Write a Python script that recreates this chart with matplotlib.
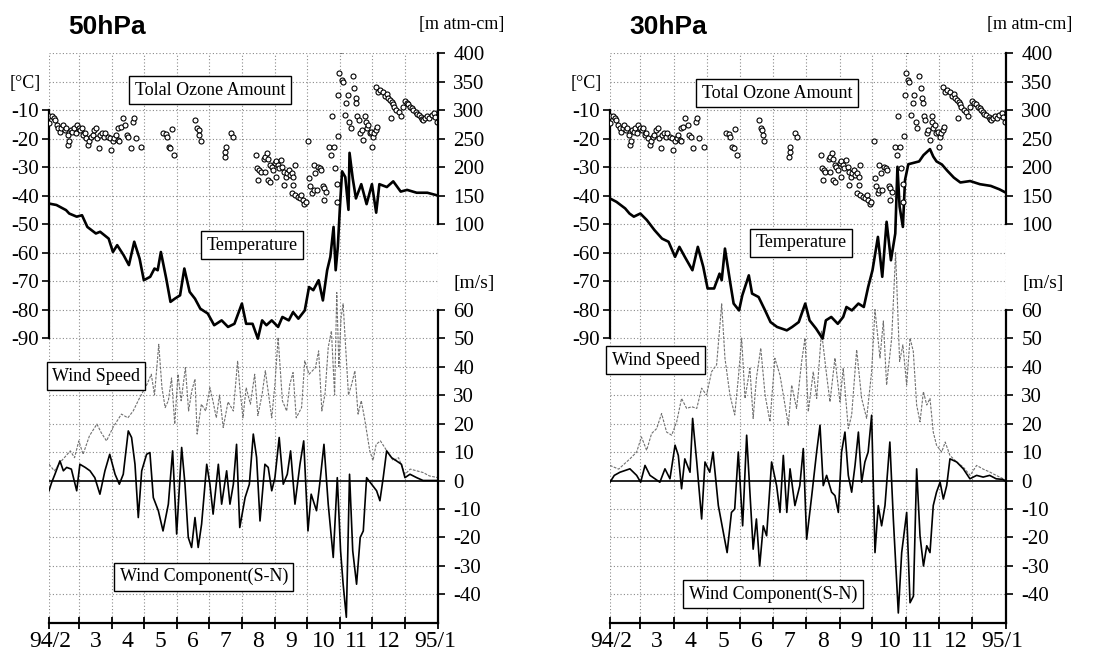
import matplotlib
matplotlib.use("Agg")
import matplotlib.pyplot as plt
from matplotlib.ticker import FixedLocator, FixedFormatter, NullFormatter

plt.rcParams['font.family'] = ['Liberation Serif', 'DejaVu Serif']
plt.rcParams['axes.unicode_minus'] = False

# x axis: days since 1994-02-01
month_edges = [0, 28, 59, 89, 120, 150, 181, 212, 242, 273, 303, 334, 365]
month_label_days = [1, 43.5, 74, 104.5, 135, 165.5, 196.5, 227, 257.5, 288, 318.5, 362]
month_labels = ["94/2", "3", "4", "5", "6", "7", "8", "9", "10", "11", "12", "95/1"]

# ---- 50 hPa temperature (degC)
t50_day = [0, 7, 16, 19, 26, 31, 36, 44, 48, 56, 60, 64, 70, 75, 80, 85, 89, 95, 99, 102,
           105, 110, 114, 118, 123, 127, 132, 137, 142, 149, 155, 162, 168, 174, 181, 185,
           191, 196, 200, 204, 209, 215, 219, 225, 229, 234, 240, 244, 248, 253, 257, 261,
           264, 267, 269, 271, 273, 275, 278, 281, 282, 285, 288, 293, 298, 303, 307, 310,
           317, 323, 330, 336, 345, 355, 365]
t50_val = [-42.8, -43.3, -45.1, -46.3, -47.4, -46.9, -51.0, -53.3, -52.7, -55.1, -59.8, -57.4,
           -60.9, -64.4, -56.2, -62.1, -69.7, -68.5, -65.6, -66.2, -59.8, -69.1, -77.3, -76.2,
           -75.0, -65.6, -73.8, -76.2, -79.7, -81.4, -85.5, -83.8, -86.1, -85.0, -77.9, -85.0,
           -85.0, -90.2, -83.8, -85.5, -83.8, -86.1, -82.6, -83.8, -80.9, -83.2, -80.3, -72.1,
           -73.2, -69.7, -76.8, -66.2, -61.5, -51.0, -66.2, -58.0, -43.9, -31.5, -33.5, -45.0,
           -25.0, -34.0, -41.0, -36.0, -43.0, -36.0, -46.0, -36.0, -37.0, -35.0, -38.6, -38.0,
           -39.0, -39.0, -40.0]

# ---- 30 hPa temperature (degC)
t30_day = [0, 6, 14, 18, 22, 28, 34, 41, 48, 54, 60, 64, 69, 76, 81, 86, 90, 96, 101, 103,
           106, 111, 114, 119, 122, 128, 131, 137, 143, 148, 154, 163, 168, 174, 180, 184,
           190, 196, 199, 204, 210, 215, 218, 223, 229, 234, 238, 242, 247, 251, 255, 259,
           263, 265, 267, 270, 272, 275, 280, 285, 289, 295, 298, 301, 306, 311, 317, 323,
           332, 341, 351, 359, 365]
t30_val = [-41.0, -42.2, -44.5, -46.3, -47.4, -46.3, -48.6, -52.1, -55.1, -56.2, -61.5, -58.0,
           -61.5, -66.2, -58.0, -65.0, -72.6, -72.6, -67.4, -69.7, -58.6, -70.9, -77.9, -80.3,
           -75.0, -68.0, -74.4, -75.6, -80.3, -84.4, -86.1, -87.3, -86.1, -84.4, -77.9, -83.8,
           -86.7, -90.2, -83.8, -82.6, -85.0, -82.6, -79.1, -80.3, -77.9, -79.1, -72.1, -66.2,
           -54.5, -68.5, -49.2, -62.7, -53.3, -29.9, -43.9, -51.0, -34.5, -29.0, -28.5, -28.0,
           -25.8, -23.7, -26.3, -28.0, -29.1, -31.3, -33.7, -35.4, -34.9, -36.0, -36.6, -37.8,
           -39.0]

# ---- total ozone amount (m atm-cm), same station for both panels
oz_day = [0, 0, 2.9, 4.4, 5.8, 7.3, 8.8, 10.2, 11.7, 13.2, 14.6, 16.1, 17.5, 18.1, 19, 20.5,
          21.9, 23.4, 24.9, 26.3, 27.8, 29.2, 30.7, 32.2, 33.6, 35.1, 36.6, 38, 39.5, 40.9,
          42.4, 43.9, 45.3, 46.8, 48.2, 49.7, 51.2, 52.6, 55.6, 57, 58.5, 59.9, 61.4, 62.9,
          64.3, 65.8, 65.2, 67.3, 69.3, 71.6, 73.1, 74.6, 76.9, 79, 79.8, 81.9, 86.3,
          106.7, 109.7, 111.1, 112.6, 114, 115.5, 117,
          137.4, 138.9, 140.4, 141.2, 142.4,
          164.9, 165.5, 166.4, 170.8, 172.2,
          194.2, 195.6, 197.1, 196.5, 198.5, 201.5, 202.9, 202.9, 204.4, 205.9, 205.9, 207.3,
          207.3, 208.8, 210.2, 211.7, 213.2, 213.2, 214.6, 216.1, 217.6, 219, 220.5, 220.5,
          222, 223.4, 224.9, 226.3, 227.8, 229.2, 229.2, 230.7,
          227.8, 230.7, 233.6, 235.1, 236.6, 238, 239.5, 241, 243.3, 243.9, 245.3, 246.8,
          248.3, 248.3, 249.7, 251.2, 252.6, 254.1, 255.6, 257, 258.5, 258.5, 259.9,
          262.9, 264.3, 265.8, 267.3, 268.7, 270.2, 270.2, 270.8, 271.6, 272.5, 274, 274.6,
          275.4, 277.5, 279, 280.4, 281.9, 283.3, 284.8, 286.3, 287.7, 288.3, 289.2, 290.6,
          292.1, 293.6, 295, 296.5, 297.1, 298, 299.4, 300.9, 302.3, 302.9, 303.8, 305.3,
          306.7, 308.2,
          307, 309, 311, 313, 315, 317, 318, 320, 321, 322, 323, 324, 326, 328, 330, 332,
          334, 336, 337, 339, 341, 342, 344, 345, 347, 349, 350, 351, 353, 355, 357, 359,
          361, 362, 364]
oz_val = [277, 289, 290, 286, 283, 273, 268, 262, 269, 273, 265, 268, 256, 239, 245, 265,
          262, 269, 259, 273, 268, 265, 268, 256, 259, 251, 239, 245, 253, 256,
          265, 268, 251, 233, 256, 259, 253, 259, 253, 251, 230, 245, 251, 256,
          248, 245, 268, 271, 286, 273, 256, 253, 233, 280, 286, 251, 236,
          259, 258, 253, 236, 233, 267, 222,
          283, 268, 265, 256, 245,
          218, 227, 236, 259, 253,
          221, 198, 195, 177, 192, 215, 218, 192, 224, 215, 177, 204,
          174, 201, 195, 207, 210, 183, 204, 198, 212, 201, 192, 169,
          183, 189, 195, 186, 189, 183, 169, 204,
          154, 151, 148, 145, 151, 142, 136, 139, 245, 180, 166, 154,
          204, 160, 189, 160, 201, 198, 195, 166, 163, 142, 157,
          236, 221, 289, 236, 198, 171, 139, 254, 327, 365, 405, 353,
          350, 292, 312, 327, 280, 268, 359, 338, 321, 312, 289, 283,
          259, 265, 248, 289, 280, 268, 274, 259, 262, 236, 253, 259,
          265, 271,
          340, 332, 336, 331, 325, 328, 322, 318, 287, 315, 310, 305, 301, 296, 290, 306,
          316, 312, 310, 306, 303, 301, 297, 294, 292, 288, 285, 283, 287, 290, 286, 292,
          295, 288, 280]

# ---- 50 hPa wind speed (m/s)
ws50_day = [0, 5, 12, 20, 24, 28, 32, 38, 45, 49, 54, 60, 68, 74, 79, 85, 92, 96, 99, 103,
            106, 109, 112, 115, 118, 121, 124, 128, 131, 134, 137, 139, 143, 147, 151, 154,
            157, 160, 163.5, 168, 173, 177, 179, 182, 185, 189, 193, 196, 200, 203, 206, 209,
            212, 215, 219, 223, 226, 229, 232, 237, 240, 244, 250, 253, 256, 259, 262, 265,
            268, 270, 272, 274, 276, 278, 281, 284, 287, 290, 293, 296, 301, 304, 307, 311,
            317, 323, 328, 334, 339, 345, 351, 357, 365]
ws50_val = [5.7, 3.4, 7.0, 10.4, 8.0, 13.9, 9.2, 15.7, 19.8, 16.8, 13.9, 18.6, 23.3, 22.0,
            24.4, 29.0, 33.8, 37.3, 30.0, 47.8, 32.6, 25.6, 28.0, 36.0, 19.8, 37.3, 28.0,
            39.6, 24.4, 31.5, 35.6, 16.3, 26.8, 24.4, 32.6, 27.6, 22.0, 30.0, 18.6, 27.6,
            24.4, 42.0, 32.6, 22.0, 32.6, 26.8, 37.3, 22.8, 30.3, 38.5, 30.3, 22.0, 33.8,
            50.2, 28.0, 24.4, 33.8, 37.9, 22.0, 25.6, 42.0, 37.3, 39.6, 45.5, 24.4, 30.3,
            46.7, 52.5, 30.0, 66.0, 40.0, 57.0, 62.0, 49.0, 30.0, 33.8, 38.5, 23.3, 28.0,
            22.0, 10.4, 7.0, 12.7, 13.9, 10.4, 7.0, 8.0, 2.2, 4.0, 3.4, 2.8, 1.6, 1.0]

# ---- 50 hPa wind component S-N (m/s)
sn50_day = [0, 2.5, 5.6, 10.3, 13.5, 16.6, 21, 26, 29, 34, 38.5, 43, 47.8, 52.5, 57, 62, 66,
            69.7, 74.4, 77.5, 80.7, 83.8, 87, 91.6, 94.7, 97.9, 102.6, 107, 112, 116, 119.8,
            124.5, 127.6, 130.7, 133.8, 137, 140, 143.2, 148, 151, 154, 158.9, 162, 166.7,
            169.8, 173, 176, 179, 184, 188, 191.7, 194.8, 198, 202.6, 205.7, 209, 212, 216,
            219.8, 223.6, 226.7, 230.8, 235.5, 239, 243, 246, 251, 254, 258, 262, 266.7,
            270.5, 273.6, 276, 279, 282, 285, 288.6, 292, 294.9, 298, 302.7, 307.4, 310.5,
            313.6, 316.8, 321.5, 326, 330.7, 334, 338.7, 345, 351, 357, 365]
sn50_val = [-3.6, -0.7, 2.2, 6.9, 3.4, 4.6, 4.0, -3.6, 5.7, 4.6, 3.4, 1.0, -4.8, 3.4, 9.2,
            2.2, -1.3, 2.2, 17.4, 15.1, 5.7, -13.0, 3.4, 9.2, 9.8, -6.0, -10.6, -17.7, -8.3,
            10.4, -18.8, 11.6, -1.3, -20.0, -23.5, -13.0, -23.5, -15.3, 5.7, -1.3, -11.8,
            5.7, -8.3, 3.4, -8.3, -1.3, 12.7, -16.5, -6.0, -1.3, 16.3, 8.1, -14.2, 5.7, 4.6,
            -3.6, 1.0, 15.1, -1.3, 2.2, 10.4, -8.3, 5.7, 13.9, -17.7, -4.8, -10.6, -1.3,
            12.7, -8.3, -27.0, 1.0, -24.7, -36.4, -48.0, 2.2, -24.7, -36.4, -20.0, -17.7,
            1.0, -1.3, -3.6, -7.1, 1.0, 10.4, 8.0, 6.9, 5.7, 1.0, 2.2, 1.0, 0.0, 0.0, 0.0]

# ---- 30 hPa wind speed (m/s)
ws30_day = [0, 8, 18.4, 24.6, 29, 33.8, 38.4, 43, 47.6, 52.2, 56.9, 61.5, 66, 70.7, 75.3, 80,
            84.5, 89, 93.7, 98.3, 103, 106, 110.6, 115, 118.3, 121.4, 124.5, 129, 132, 135,
            139, 143, 147.5, 152, 156.7, 159.8, 164.4, 167.5, 172, 176.7, 179.8, 182.8,
            187.4, 190.5, 195, 199.7, 202.8, 207.4, 212, 215, 219.7, 222.8, 227.4, 232,
            236.6, 241.2, 244.3, 248.9, 252, 255, 259.7, 263.3, 267, 270, 273.5, 276.6,
            279.6, 282.7, 285.8, 288.9, 292, 295, 298, 301, 305.8, 309, 313.4, 319.6, 325.7,
            332, 338, 344, 350, 356, 362.6, 365]
ws30_val = [5.3, 4.0, 7.6, 10.0, 15.3, 10.6, 16.5, 18.2, 23.5, 17.0, 15.9, 20.6, 28.8, 25.3,
            25.9, 25.3, 32.4, 30.0, 38.2, 40.6, 62.0, 42.9, 30.0, 23.0, 35.9, 50.0, 28.8,
            39.4, 21.8, 35.9, 46.5, 30.0, 20.6, 42.9, 37.0, 30.0, 19.4, 33.5, 25.3, 41.8,
            50.0, 24.1, 38.2, 28.8, 52.4, 37.0, 27.6, 43.0, 27.6, 39.4, 18.2, 23.0, 45.9,
            28.8, 21.8, 38.2, 60.0, 43.0, 56.0, 33.5, 50.0, 80.0, 41.8, 47.6, 33.5, 50.0,
            45.3, 26.5, 20.6, 31.2, 26.5, 28.8, 17.0, 12.4, 10.0, 13.5, 8.8, 6.5, 4.7, 1.8,
            5.3, 4.0, 3.0, 1.8, 0.6, 0.0]

# ---- 30 hPa wind component S-N (m/s)
sn30_day = [0, 4, 9.2, 13.8, 18.4, 24.6, 28.3, 32.3, 36.9, 41.5, 46, 50.7, 55.3, 60, 63,
            66, 69, 73.8, 76.2, 80, 84.5, 87.6, 92, 95, 99.9, 104.5, 108, 112, 115, 118.3,
            122.3, 126, 129, 132, 135, 138, 141.3, 144.4, 149, 153.6, 156.7, 159.8, 163,
            166, 170.5, 175, 178.2, 181.3, 186, 190.5, 193.6, 196.6, 199.7, 204.3, 207.4,
            210.5, 213.5, 216.6, 219.7, 222.8, 225.9, 229, 232, 235, 238, 241.2, 244.3,
            247.3, 250.4, 253.5, 258, 261.2, 265.8, 268.9, 273.5, 276.6, 279.7, 282.7,
            285.8, 289, 292, 295, 298, 301, 304.3, 307.3, 310.4, 313.4, 319.6, 325.7,
            331.8, 338, 344, 350, 356, 362, 365]
sn30_val = [-0.6, 1.8, 2.9, 3.5, 4.1, 1.8, -0.6, 5.3, 1.8, 0.6, -0.6, 4.1, 0.6, 12.4, 8.8,
            -2.9, 7.6, 2.9, 21.8, 6.5, -13.5, 6.5, 2.9, 10.0, -8.8, -18.2, -25.3, -11.2,
            -10.0, 10.0, -15.9, 15.9, -4.1, -24.1, -13.5, -30.0, -15.9, -19.4, 6.5, -1.8,
            -11.2, 8.8, -11.2, 4.1, -8.8, -1.8, 11.2, -20.6, -5.3, 10.0, 19.4, -1.8, 1.8,
            -4.1, -5.3, -11.2, 10.0, 17.0, 1.8, -4.1, 5.3, 17.0, -0.6, 6.5, 10.0, 22.9,
            -25.3, -8.8, -15.9, -8.8, 13.5, -13.5, -46.5, -25.3, -11.2, -42.9, -40.6, 4.1,
            -19.4, -30.0, -22.9, -25.3, -8.8, -4.1, -0.6, -6.5, -1.8, 7.6, 6.5, 4.1, 0.6,
            1.8, 1.2, 1.8, 0.6, 0.4, -0.3]

GRID = dict(color="#8a8a8a", linestyle=(0, (1, 2)), linewidth=0.8)


def draw_panel(rect, title, ozone_text, t_day, t_val, ws_day, ws_val, sn_day, sn_val, boxpos):
    axw = fig.add_axes(rect)      # wind (right, lower)
    axt = axw.twinx()             # temperature (left)
    axo = axw.twinx()             # ozone (right, upper)

    axw.set_xlim(0, 365)
    axw.set_ylim(-50, 150)
    axt.set_ylim(-190, 10)
    axo.set_ylim(-600, 400)

    # dotted grid
    for e in month_edges:
        axw.axvline(e, zorder=0, **GRID)
    for w in range(-40, 151, 10):
        if w != 0:
            axw.axhline(w, zorder=0, **GRID)
    axw.axhline(0, color="black", linewidth=1.2, zorder=1)

    axw.plot(ws_day, ws_val, color="#707070", linewidth=0.8, linestyle=(0, (2.5, 1.2)), zorder=2)
    axw.plot(sn_day, sn_val, color="black", linewidth=1.2, zorder=3)
    axt.plot(t_day, t_val, color="black", linewidth=1.9)
    axo.plot(oz_day, oz_val, linestyle="none", marker="o", markersize=3.6,
             markerfacecolor="white", markeredgecolor="black", markeredgewidth=0.8)

    # spines
    for a in (axw, axt, axo):
        for s in a.spines.values():
            s.set_visible(False)
    axw.spines["bottom"].set_visible(True)
    axw.spines["bottom"].set_linewidth(1.6)
    axw.spines["right"].set_visible(True)
    axw.spines["right"].set_bounds(-50, 60)
    axw.spines["right"].set_linewidth(1.6)
    axt.spines["left"].set_visible(True)
    axt.spines["left"].set_bounds(-90, -10)
    axt.spines["left"].set_linewidth(1.6)
    axo.spines["right"].set_visible(True)
    axo.spines["right"].set_bounds(100, 400)
    axo.spines["right"].set_linewidth(1.6)

    # y ticks
    axw.yaxis.tick_right()
    axw.set_yticks(range(-40, 61, 10))
    axw.tick_params(axis="y", direction="out", length=5, width=1.2, labelsize=15, pad=6)
    axt.yaxis.tick_left()
    axt.set_yticks(range(-90, -9, 10))
    axt.tick_params(axis="y", direction="out", length=5, width=1.2, labelsize=15, pad=2)
    axo.yaxis.tick_right()
    axo.set_yticks(range(100, 401, 50))
    axo.tick_params(axis="y", direction="out", length=5, width=1.2, labelsize=15, pad=6)

    # x ticks: boundaries marked, labels at month centres
    axw.xaxis.remove_overlapping_locs = False
    axw.xaxis.set_major_locator(FixedLocator(month_edges))
    axw.xaxis.set_major_formatter(NullFormatter())
    axw.xaxis.set_minor_locator(FixedLocator(month_label_days))
    axw.xaxis.set_minor_formatter(FixedFormatter(month_labels))
    axw.tick_params(axis="x", which="major", direction="inout", length=9, width=1.3)
    axw.tick_params(axis="x", which="minor", length=0, labelsize=17, pad=6)

    # titles / units
    axo.text(0.05, 1.045, title, transform=axo.transAxes, fontsize=19, fontweight="bold",
             family="Liberation Sans", ha="left", va="center")
    axo.text(-0.06, 0.947, "[°C]", transform=axo.transAxes, fontsize=13, ha="center", va="center")
    axo.text(1.06, 1.05, "[m atm-cm]", transform=axo.transAxes, fontsize=13, ha="center", va="center")
    axo.text(1.093, 0.596, "[m/s]", transform=axo.transAxes, fontsize=14, ha="center", va="center")

    labels = [ozone_text, "Temperature", "Wind Speed", "Wind Component(S-N)"]
    for s, (bx, by) in zip(labels, boxpos):
        axo.text(bx, by, s, transform=axo.transAxes, fontsize=13, ha="center", va="center",
                 zorder=10, bbox=dict(boxstyle="square,pad=0.3", facecolor="white",
                                      edgecolor="black", linewidth=1.0))


fig = plt.figure(figsize=(11.03, 6.55), dpi=100)
fig.patch.set_facecolor("white")

draw_panel([0.0444, 0.0489, 0.3527, 0.870], "50hPa", "Tolal Ozone Amount",
           t50_day, t50_val, ws50_day, ws50_val, sn50_day, sn50_val,
           [(0.414, 0.935), (0.522, 0.663), (0.121, 0.433), (0.398, 0.081)])
draw_panel([0.553, 0.0489, 0.359, 0.870], "30hPa", "Total Ozone Amount",
           t30_day, t30_val, ws30_day, ws30_val, sn30_day, sn30_val,
           [(0.422, 0.930), (0.482, 0.667), (0.116, 0.461), (0.412, 0.051)])

fig.savefig("out.png", dpi=100, facecolor="white")
